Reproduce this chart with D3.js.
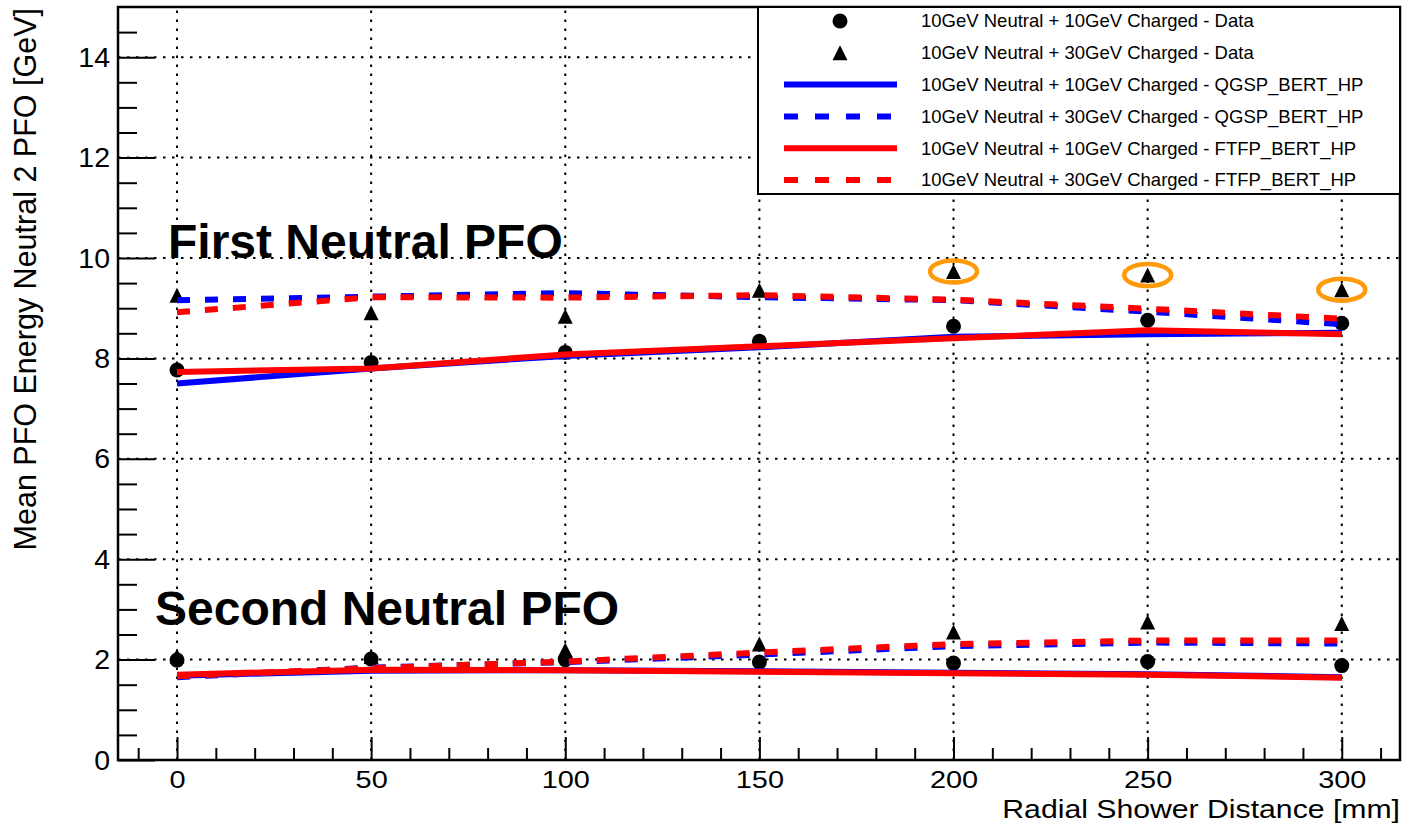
<!DOCTYPE html>
<html>
<head>
<meta charset="utf-8">
<script src="https://cdn.jsdelivr.net/npm/d3@7"></script>
<style>
  body { margin: 0; background: #fff; }
  text { font-family: "Liberation Sans", Arial, Helvetica, sans-serif; }
</style>
</head>
<body>
<svg id="chart" width="1406" height="828"></svg>
<script>
// Radial shower distance (mm)
const distances = [0, 50, 100, 150, 200, 250, 300];

// First neutral PFO: mean energy (GeV)
const dataN10C10First = [7.77, 7.92, 8.12, 8.34, 8.64, 8.76, 8.70];
const dataN10C30First = [9.26, 8.91, 8.84, 9.36, 9.73, 9.66, 9.37];
const qgspN10C10First = [7.50, 7.80, 8.05, 8.22, 8.43, 8.48, 8.51];
const qgspN10C30First = [9.16, 9.23, 9.30, 9.22, 9.16, 8.93, 8.68];
const ftfpN10C10First = [7.73, 7.80, 8.08, 8.24, 8.40, 8.56, 8.48];
const ftfpN10C30First = [8.92, 9.22, 9.21, 9.26, 9.17, 8.99, 8.79];

// Second neutral PFO: mean energy (GeV)
const dataN10C10Second = [1.99, 2.01, 2.00, 1.95, 1.93, 1.96, 1.88];
const dataN10C30Second = [2.07, 2.06, 2.19, 2.31, 2.55, 2.75, 2.72];
const qgspN10C10Second = [1.68, 1.78, 1.79, 1.77, 1.74, 1.71, 1.65];
const qgspN10C30Second = [1.65, 1.84, 1.95, 2.10, 2.27, 2.34, 2.32];
const ftfpN10C10Second = [1.70, 1.80, 1.79, 1.76, 1.73, 1.70, 1.64];
const ftfpN10C30Second = [1.67, 1.83, 1.96, 2.14, 2.31, 2.38, 2.38];

// Points ringed in orange (first PFO, 10+30 data)
const highlighted = [200, 250, 300];

// Axis ticks
const xMajorTicks = [0, 50, 100, 150, 200, 250, 300];
const xMinorTicks = d3.range(-10, 311, 10).filter(v => v % 50 !== 0);
const yMajorTicks = [0, 2, 4, 6, 8, 10, 12, 14];
const yMinorTicks = d3.range(0.5, 15, 0.5).filter(v => v % 2 !== 0);

const legendLabels = [
  "10GeV Neutral + 10GeV Charged - Data",
  "10GeV Neutral + 30GeV Charged - Data",
  "10GeV Neutral + 10GeV Charged - QGSP_BERT_HP",
  "10GeV Neutral + 30GeV Charged - QGSP_BERT_HP",
  "10GeV Neutral + 10GeV Charged - FTFP_BERT_HP",
  "10GeV Neutral + 30GeV Charged - FTFP_BERT_HP"
];

const BLUE = "#0000ff", RED = "#ff0000", ORANGE = "#ff9a0a";
const DASH = "13,15";

const svg = d3.select("#chart");
svg.append("rect").attr("width", 1406).attr("height", 828).attr("fill", "#fff");

const frame = { left: 118, right: 1400, top: 7, bottom: 760 };
const x = d3.scaleLinear().domain([-15.2, 315]).range([frame.left, frame.right]);
const y = d3.scaleLinear().domain([0, 15]).range([frame.bottom, frame.top]);

// Dotted grid at major ticks
const grid = svg.append("g").attr("stroke", "#000").attr("stroke-width", 2)
  .attr("stroke-dasharray", "2.5,6.5");
grid.selectAll("line.gx").data(xMajorTicks).join("line")
  .attr("x1", d => x(d)).attr("x2", d => x(d))
  .attr("y1", frame.bottom).attr("y2", frame.top);
grid.selectAll("line.gy").data(yMajorTicks.filter(v => v > 0)).join("line")
  .attr("x1", frame.left).attr("x2", frame.right)
  .attr("y1", d => y(d)).attr("y2", d => y(d));

const zip = vals => distances.map((d, i) => [d, vals[i]]);

// Markers
function drawCircles(vals) {
  svg.append("g").selectAll("circle").data(zip(vals)).join("circle")
    .attr("cx", d => x(d[0])).attr("cy", d => y(d[1])).attr("r", 7.5).attr("fill", "#000");
}
function triPath(cx, cy, s) {
  return `M${cx},${cy - s}L${cx + s},${cy + s}L${cx - s},${cy + s}Z`;
}
function drawTriangles(vals) {
  svg.append("g").selectAll("path").data(zip(vals)).join("path")
    .attr("d", d => triPath(x(d[0]), y(d[1]), 7.5)).attr("fill", "#000");
}
drawTriangles(dataN10C30First);
drawTriangles(dataN10C30Second);
drawCircles(dataN10C10First);
drawCircles(dataN10C10Second);

// Simulation curves
const line = d3.line().x(d => x(d[0])).y(d => y(d[1]));
function drawCurve(vals, color, dashed) {
  svg.append("path").datum(zip(vals))
    .attr("d", line).attr("fill", "none").attr("stroke", color)
    .attr("stroke-width", 6)
    .attr("stroke-dasharray", dashed ? DASH : null);
}
drawCurve(qgspN10C10First, BLUE, false);
drawCurve(qgspN10C30First, BLUE, true);
drawCurve(qgspN10C10Second, BLUE, false);
drawCurve(qgspN10C30Second, BLUE, true);
drawCurve(ftfpN10C10First, RED, false);
drawCurve(ftfpN10C30First, RED, true);
drawCurve(ftfpN10C10Second, RED, false);
drawCurve(ftfpN10C30Second, RED, true);

// Orange rings
svg.append("g").selectAll("ellipse")
  .data(highlighted.map(d => [d, dataN10C30First[distances.indexOf(d)]]))
  .join("ellipse")
  .attr("cx", d => x(d[0])).attr("cy", d => y(d[1]))
  .attr("rx", 23.5).attr("ry", 11)
  .attr("fill", "none").attr("stroke", ORANGE).attr("stroke-width", 4.5);

// Group labels
svg.append("text").attr("x", 168).attr("y", 258)
  .attr("font-size", 48).attr("font-weight", "bold").text("First Neutral PFO");
svg.append("text").attr("x", 155).attr("y", 625)
  .attr("font-size", 48).attr("font-weight", "bold").text("Second Neutral PFO");

// Frame
svg.append("rect").attr("x", frame.left).attr("y", frame.top)
  .attr("width", frame.right - frame.left).attr("height", frame.bottom - frame.top)
  .attr("fill", "none").attr("stroke", "#000").attr("stroke-width", 2.5);

// X axis (labels drawn slightly widened)
svg.append("g").attr("class", "x-major").attr("transform", `translate(0,${frame.bottom})`)
  .call(d3.axisBottom(x).tickValues(xMajorTicks).tickFormat(d3.format("d"))
    .tickSizeInner(-23).tickSizeOuter(0).tickPadding(11));
svg.append("g").attr("transform", `translate(0,${frame.bottom})`)
  .call(d3.axisBottom(x).tickValues(xMinorTicks).tickFormat("")
    .tickSizeInner(-12).tickSizeOuter(0));

// Y axis
svg.append("g").attr("class", "y-major").attr("transform", `translate(${frame.left},0)`)
  .call(d3.axisLeft(y).tickValues(yMajorTicks).tickFormat(d3.format("d"))
    .tickSizeInner(-37).tickSizeOuter(0).tickPadding(8));
svg.append("g").attr("transform", `translate(${frame.left},0)`)
  .call(d3.axisLeft(y).tickValues(yMinorTicks).tickFormat("")
    .tickSizeInner(-19).tickSizeOuter(0));

svg.selectAll(".domain").remove();
svg.selectAll(".tick line").attr("stroke", "#000").attr("stroke-width", 2);
svg.selectAll(".tick text").attr("fill", "#000")
  .attr("font-family", "Liberation Sans, Arial, sans-serif");
svg.selectAll(".y-major .tick text").attr("font-size", 28.5);
svg.selectAll(".x-major .tick text").attr("font-size", 24.5)
  .attr("transform", "scale(1.18,1)");

// Axis titles
svg.append("text").attr("transform", "translate(1400,817.5) scale(1.185,1)")
  .attr("text-anchor", "end").attr("font-size", 25.5).text("Radial Shower Distance [mm]");
svg.append("text").attr("transform", "translate(36,8) rotate(-90)")
  .attr("text-anchor", "end").attr("font-size", 30.5)
  .text("Mean PFO Energy Neutral 2 PFO [GeV]");

// Legend
const leg = svg.append("g");
leg.append("rect").attr("x", 758).attr("y", 7).attr("width", 642).attr("height", 187)
  .attr("fill", "#fff").attr("stroke", "#000").attr("stroke-width", 2);
const rowY = i => 21 + i * 31.8;
const legendStyles = [
  { kind: "circle" }, { kind: "triangle" },
  { kind: "line", color: BLUE, dashed: false }, { kind: "line", color: BLUE, dashed: true },
  { kind: "line", color: RED, dashed: false }, { kind: "line", color: RED, dashed: true }
];
legendLabels.forEach((label, i) => {
  const st = legendStyles[i];
  const cy = rowY(i);
  if (st.kind === "circle") {
    leg.append("circle").attr("cx", 840).attr("cy", cy).attr("r", 7.5).attr("fill", "#000");
  } else if (st.kind === "triangle") {
    leg.append("path").attr("d", triPath(840, cy, 7.5)).attr("fill", "#000");
  } else {
    leg.append("line").attr("x1", 784).attr("x2", 897).attr("y1", cy).attr("y2", cy)
      .attr("stroke", st.color).attr("stroke-width", 6)
      .attr("stroke-dasharray", st.dashed ? "14,17" : null);
  }
  leg.append("text").attr("x", 921).attr("y", cy).attr("dy", "0.35em")
    .attr("font-size", 18.5).text(label);
});
</script>
</body>
</html>
